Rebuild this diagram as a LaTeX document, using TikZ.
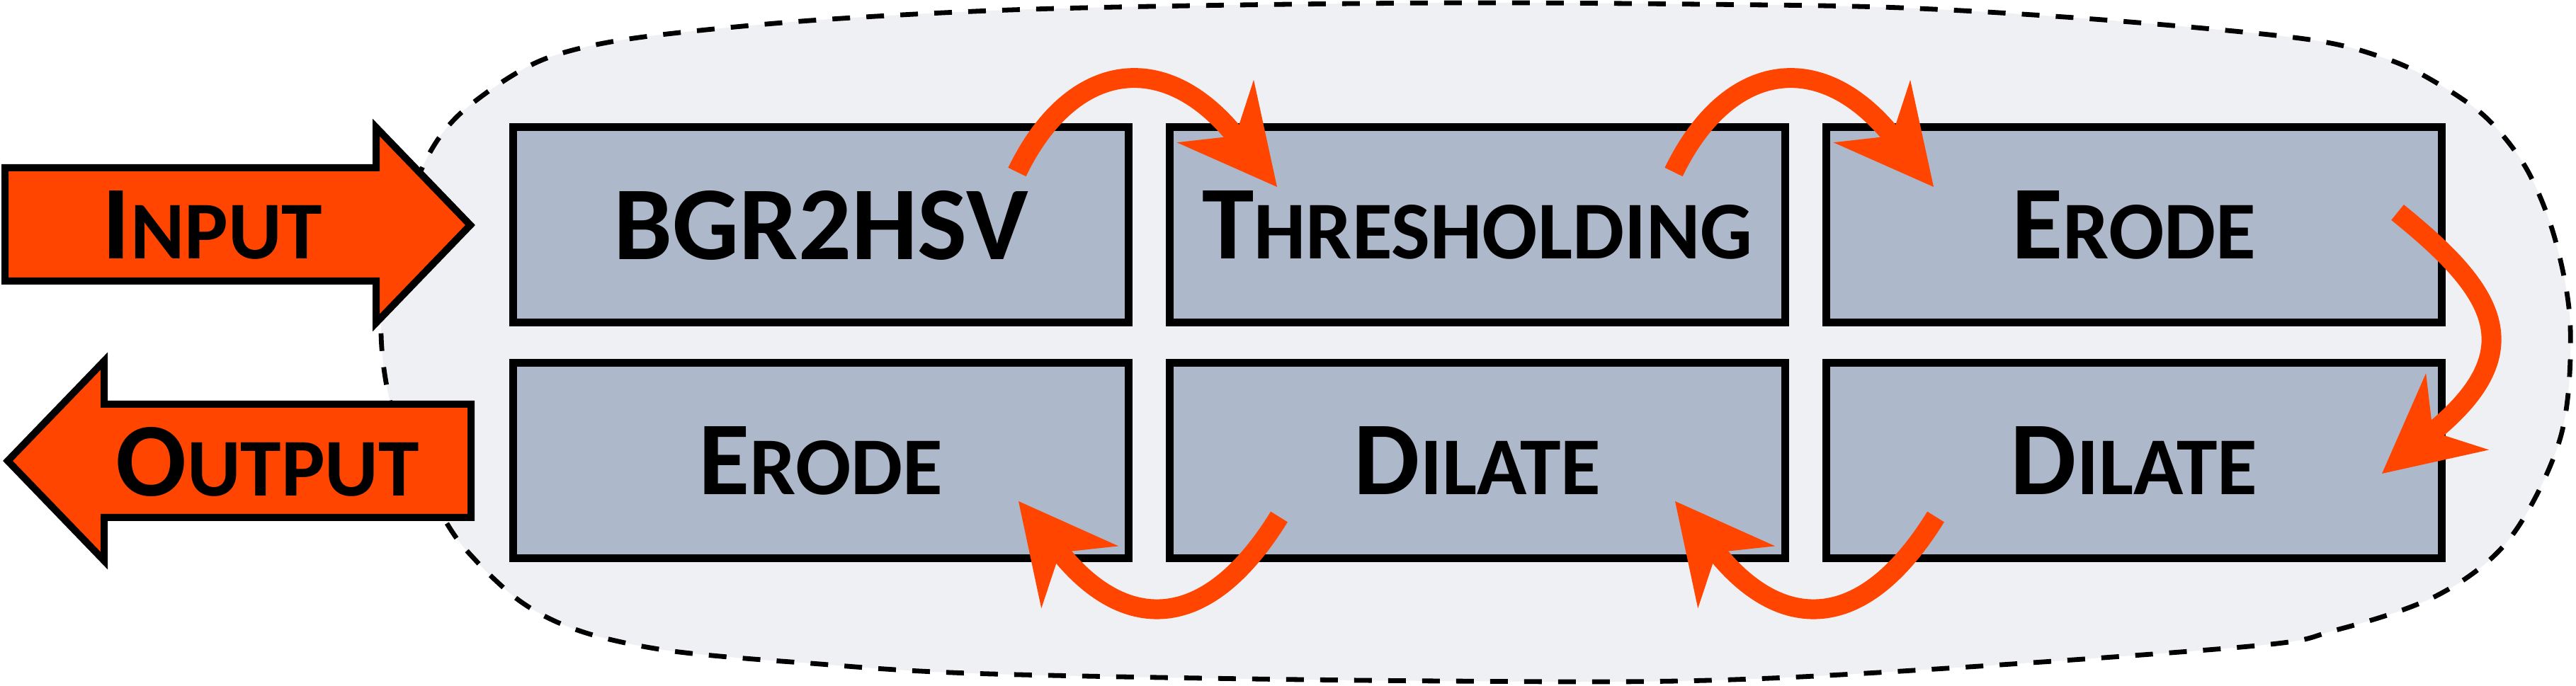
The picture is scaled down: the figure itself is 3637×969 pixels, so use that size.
\documentclass[tikz,border=0pt]{standalone}
\usepackage{fontspec}
\setmainfont{Carlito}
\usetikzlibrary{arrows.meta,calc}
\definecolor{orng}{HTML}{FF4500}
\definecolor{boxfill}{HTML}{ADB8CA}
\definecolor{blobfill}{HTML}{EFF0F4}
\newcommand\BigL[1]{{\fontsize{37}{40}\selectfont #1}}
\newcommand\SmL[1]{{\fontsize{29}{32}\selectfont #1}}
\begin{document}
\begin{tikzpicture}[x=0.25pt,y=-0.25pt,
  stage/.style={draw=black,line width=2.75pt,fill=boxfill,minimum width=217.25pt,minimum height=69pt,inner sep=0pt,font=\bfseries},
  flow/.style={draw=orng,line width=7pt,-{Stealth[length=34.5pt,width=35pt,inset=11.25pt,line width=0pt]}},
  io/.style={draw=black,line width=2.5pt,fill=orng,line join=miter},
  lbl/.style={font=\bfseries,inner sep=0pt},
  blob/.style={fill=blobfill,draw=black,dash pattern=on 6.25pt off 5.75pt,line width=1.7pt}]
\useasboundingbox (0,0) rectangle (3637,969);
\draw[blob] plot[smooth cycle, tension=0.55] coordinates {
 (538,470) (556,350) (598,233) (643,167) (718,110) (787,77) (902,53) (1131,30) (1400,15) (1685,8) (2056,4) (2399,6) (2684,11) (2969,28) (3254,55) (3369,83) (3440,117) (3511,167) (3568,240) (3608,340) (3629,464) (3615,618) (3544,760) (3443,840) (3298,890) (3153,915) (2500,958) (2039,962) (1400,952) (1131,936) (959,921) (856,902) (787,879) (730,846) (672,792) (629,736) (560,600)};
% input / output arrows
\draw[io] (7,237) -- (531,237) -- (531,180) -- (664,318) -- (531,456) -- (531,397) -- (7,397) -- cycle;
\node[lbl] (inp) at (300,318) {\BigL{I}\SmL{NPUT}};
\draw[io] (665,571) -- (147,571) -- (147,510) -- (11,651) -- (147,792) -- (147,731) -- (665,731) -- cycle;
\node[lbl] (outp) at (378,652) {\BigL{O}\SmL{UTPUT}};
% stages
\node[stage] (b1) at (1159,318) {\BigL{BGR2HSV}};
\node[stage] (b2) at (2086,318) {\BigL{T}\SmL{HRESHOLDING}};
\node[stage] (b3) at (3013,318) {\BigL{E}\SmL{RODE}};
\node[stage] (b4) at (1159,651) {\BigL{E}\SmL{RODE}};
\node[stage] (b5) at (2086,651) {\BigL{D}\SmL{ILATE}};
\node[stage] (b6) at (3013,651) {\BigL{D}\SmL{ILATE}};
% flow arrows
\draw[flow] ($(b1.center)+(277,-75)$) .. controls +(74,-153) and +(-163,-200) .. ($(b2.center)+(-283,-54)$);
\draw[flow] ($(b2.center)+(277,-75)$) .. controls +(74,-153) and +(-163,-200) .. ($(b3.center)+(-283,-54)$);
\draw[flow] ($(b3.center)+(372,-18)$) .. controls +(135,109) and +(214,-176) .. ($(b6.center)+(350,18)$);
\draw[flow] ($(b6.center)+(-280,79)$) .. controls +(-105,170) and +(147,182) .. ($(b5.center)+(279,57)$);
\draw[flow] ($(b5.center)+(-280,79)$) .. controls +(-105,170) and +(147,182) .. ($(b4.center)+(279,57)$);
\end{tikzpicture}
\end{document}
